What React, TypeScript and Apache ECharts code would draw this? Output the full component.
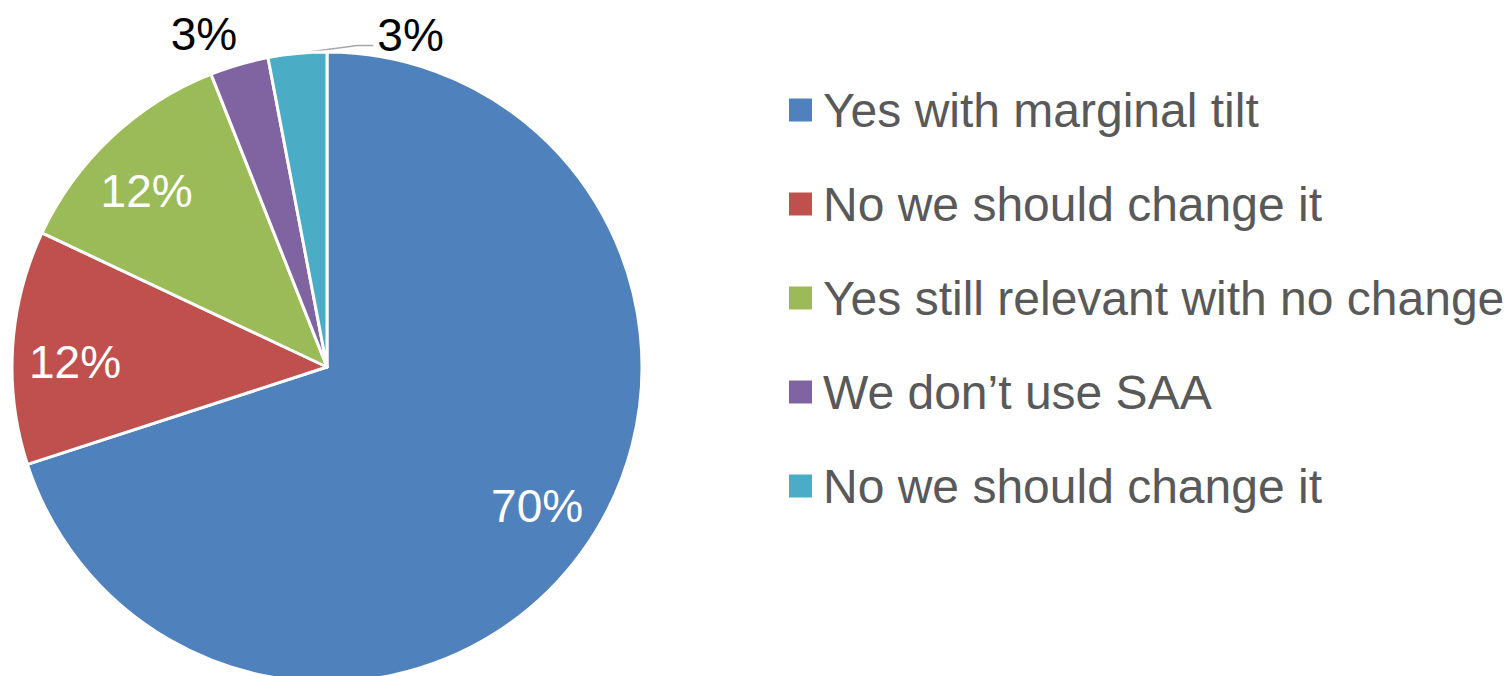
import React, { useEffect, useRef } from 'react';
import * as echarts from 'echarts';

const categories = [
  'Yes with marginal tilt',
  'No we should change it',
  'Yes still relevant with no change',
  'We don\u2019t use SAA',
  'No we should change it',
];
const values = [70, 12, 12, 3, 3];
const colors = ['#4F81BD', '#C0504D', '#9BBB59', '#8064A2', '#4BACC6'];
const insideLabelIdx = [0, 1, 2];

const FONT = '"Liberation Sans", Arial, sans-serif';

export default function App() {
  const ref = useRef<HTMLDivElement>(null);
  useEffect(() => {
    if (!ref.current) return;
    const chart = echarts.init(ref.current, undefined, { renderer: 'svg' });
    const keys = categories.map((c, i) => `${c}#${i}`);
    const mainData = values.map((v, i) => ({
      name: keys[i],
      value: v,
      itemStyle: { color: colors[i] },
      label: { show: i >= 3 },
      labelLine: { show: i === 4 },
    }));
    const overlayData = values.map((v, i) => ({
      name: keys[i],
      value: v,
      label: { show: insideLabelIdx.includes(i) },
    }));
    chart.setOption({
      animation: false,
      backgroundColor: '#ffffff',
      legend: {
        orient: 'vertical',
        left: 787,
        top: 86,
        padding: 0,
        itemWidth: 25,
        itemHeight: 25,
        itemGap: 46,
        icon: 'rect',
        data: keys,
        formatter: (name: string) => name.split('#')[0],
        textStyle: {
          fontSize: 48,
          lineHeight: 48,
          color: '#595959',
          fontFamily: FONT,
          padding: [0, 0, 0, 5],
        },
        selectedMode: false,
      },
      series: [
        {
          type: 'pie',
          center: [327, 367],
          radius: [0, 315],
          startAngle: 90,
          clockwise: true,
          avoidLabelOverlap: false,
          itemStyle: { borderColor: '#ffffff', borderWidth: 3 },
          label: {
            position: 'outside',
            formatter: '{c}%',
            fontSize: 46,
            color: '#000000',
            fontFamily: FONT,
          },
          labelLine: { length: 20, length2: 10, lineStyle: { color: '#A6A6A6', width: 1.5 } },
          labelLayout: (params: any) => {
            const pts = params.labelLinePoints;
            if (!pts) return {};
            const p0 = pts[0];
            if (params.dataIndex === 4) {
              return {
                x: p0[0] + 80,
                y: p0[1] - 18,
                align: 'left',
                verticalAlign: 'middle',
                labelLinePoints: [
                  [p0[0], p0[1]],
                  [p0[0] + 60, p0[1] - 8],
                  [p0[0] + 76, p0[1] - 8],
                ],
              };
            }
            if (params.dataIndex === 3) {
              return {
                x: p0[0] - 2,
                y: p0[1] - 31,
                align: 'right',
                verticalAlign: 'middle',
              };
            }
            return {};
          },
          emphasis: { disabled: true },
          data: mainData,
        },
        {
          type: 'pie',
          center: [327, 367],
          radius: [183, 315],
          startAngle: 92.5,
          clockwise: true,
          silent: true,
          legendHoverLink: false,
          avoidLabelOverlap: false,
          itemStyle: { color: 'rgba(0,0,0,0)', borderWidth: 0 },
          label: {
            position: 'inside',
            formatter: '{c}%',
            fontSize: 46,
            color: '#ffffff',
            fontFamily: FONT,
          },
          labelLine: { show: false },
          emphasis: { disabled: true },
          data: overlayData,
        },
      ],
    });
    return () => chart.dispose();
  }, []);
  return (
    <div
      ref={ref}
      style={{ position: 'fixed', left: 0, top: 0, width: 1512, height: 676 }}
    />
  );
}
